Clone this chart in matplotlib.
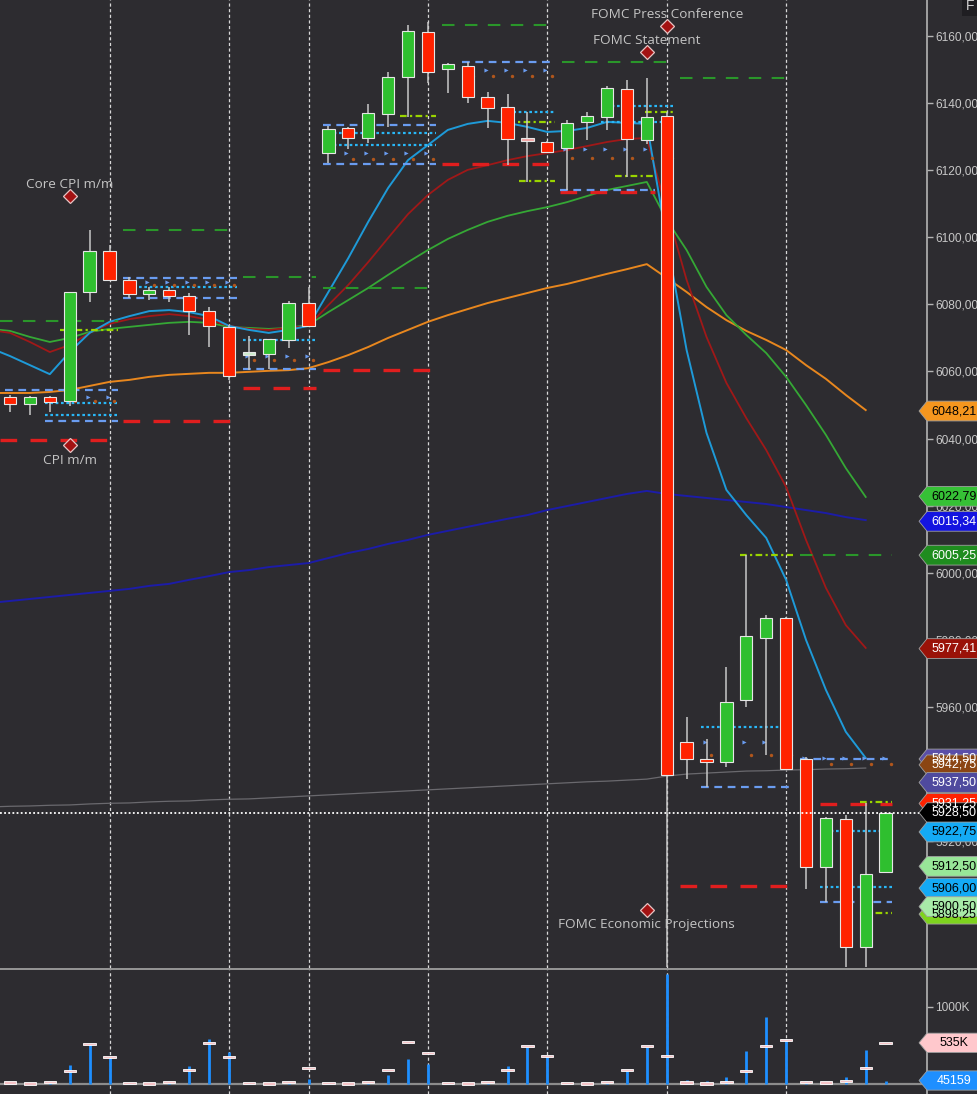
import numpy as np
import matplotlib
matplotlib.use('Agg')
import matplotlib.pyplot as plt
from matplotlib import font_manager
from matplotlib.patches import Polygon

names = {f.name for f in font_manager.fontManager.ttflist}
tagfont = 'Liberation Sans Narrow' if 'Liberation Sans Narrow' in names else 'Liberation Sans'
tagsize = 10.5 if tagfont == 'Liberation Sans Narrow' else 8.6

BG = '#2d2c30'

# ---- candles (price) ----
opens = [6052.4, 6050.3, 6052.4, 6051.2, 6083.7, 6095.9, 6087.3, 6083.1, 6084.3, 6082.5,
         6078.0, 6073.3, 6064.9, 6065.2, 6069.4, 6080.4, 6125.1, 6132.6, 6129.6, 6136.8,
         6147.8, 6161.2, 6150.2, 6151.1, 6141.8, 6138.8, 6129.6, 6128.4, 6126.6, 6134.4,
         6135.9, 6144.2, 6129.0, 6136.2, 5949.6, 5944.5, 5943.6, 5962.1, 5980.6, 5986.5,
         5944.5, 5912.3, 5926.6, 5888.5, 5910.8]
highs = [6053.0, 6052.7, 6052.7, 6083.7, 6102.2, 6097.7, 6088.2, 6085.2, 6085.2, 6083.4,
         6079.2, 6073.9, 6070.6, 6069.7, 6081.0, 6085.2, 6133.2, 6132.9, 6139.7, 6149.3,
         6163.3, 6164.2, 6152.0, 6152.3, 6143.3, 6142.7, 6137.3, 6128.7, 6135.0, 6137.3,
         6145.1, 6146.9, 6147.5, 6137.3, 5957.0, 5950.5, 5971.9, 6005.3, 5987.4, 5986.8,
         5945.1, 5927.2, 5927.8, 5931.4, 5928.7]
lows = [6047.9, 6047.0, 6047.9, 6049.7, 6080.7, 6087.3, 6081.9, 6081.3, 6080.7, 6070.9,
        6067.3, 6057.5, 6060.4, 6060.7, 6067.0, 6073.6, 6122.1, 6126.3, 6128.1, 6132.9,
        6135.9, 6146.0, 6143.0, 6140.0, 6132.6, 6121.5, 6116.5, 6125.1, 6114.1, 6129.0,
        6132.0, 6117.9, 6127.8, 5882.5, 5938.5, 5936.2, 5942.1, 5960.0, 5945.7, 5941.2,
        5905.8, 5901.9, 5882.5, 5882.5, 5910.5]
closes = [6050.3, 6052.4, 6050.9, 6083.7, 6095.9, 6087.3, 6083.1, 6084.3, 6082.5, 6078.0,
          6073.6, 6058.7, 6065.5, 6069.7, 6080.4, 6073.6, 6132.3, 6129.6, 6137.0, 6147.8,
          6161.5, 6149.3, 6151.7, 6141.8, 6138.5, 6129.3, 6128.7, 6125.4, 6134.1, 6136.2,
          6144.5, 6129.3, 6135.9, 5939.7, 5944.5, 5943.6, 5961.5, 5981.2, 5986.5, 5941.5,
          5912.3, 5926.9, 5888.5, 5910.2, 5928.4]
pale_up = [12]
pale_down = [26]

# ---- moving averages (start one bar before the first candle) ----
ma_fast = [6067.0, 6064.6, 6061.9, 6059.2, 6065.8, 6071.5, 6074.8, 6076.5, 6078.0, 6078.3,
           6077.7, 6076.5, 6073.6, 6072.4, 6071.5, 6072.4, 6073.6, 6083.7, 6093.8, 6104.6,
           6114.7, 6123.0, 6127.5, 6132.0, 6133.8, 6134.7, 6134.1, 6132.9, 6131.4, 6131.7,
           6132.6, 6134.4, 6134.1, 6133.8, 6099.2, 6066.4, 6041.7, 6024.7, 6017.2, 6010.4,
           5997.9, 5980.0, 5965.1, 5952.6, 5944.8]
ma_red = [6072.4, 6071.5, 6068.8, 6065.8, 6067.9, 6071.5, 6074.2, 6075.6, 6076.5, 6077.1,
          6076.5, 6075.4, 6073.6, 6072.7, 6072.4, 6073.0, 6073.6, 6079.8, 6085.8, 6092.6,
          6099.8, 6106.9, 6112.6, 6117.1, 6120.1, 6121.5, 6123.0, 6124.2, 6125.1, 6126.0,
          6127.2, 6128.4, 6129.3, 6129.6, 6108.1, 6087.3, 6070.3, 6056.6, 6046.1, 6036.6,
          6025.6, 6009.8, 5995.5, 5984.4, 5977.6]
ma_green = [6072.7, 6072.1, 6070.3, 6068.8, 6070.0, 6071.8, 6072.7, 6073.3, 6073.9, 6074.5,
            6074.8, 6074.5, 6073.3, 6073.0, 6072.7, 6073.0, 6073.9, 6077.7, 6081.3, 6084.9,
            6088.8, 6092.6, 6096.2, 6099.5, 6102.2, 6104.6, 6106.4, 6107.8, 6109.0, 6110.5,
            6112.3, 6114.1, 6115.3, 6116.5, 6105.2, 6096.2, 6085.2, 6076.8, 6070.9, 6065.5,
            6058.4, 6050.0, 6041.1, 6031.2, 6022.6]
ma_orange = [6053.6, 6053.6, 6053.6, 6053.9, 6054.5, 6055.7, 6056.9, 6057.5, 6058.4, 6059.0,
             6059.3, 6059.6, 6059.6, 6059.9, 6060.2, 6060.4, 6061.0, 6062.8, 6064.9, 6067.3,
             6070.0, 6072.4, 6074.8, 6076.8, 6078.6, 6080.4, 6081.9, 6083.4, 6084.9, 6086.1,
             6087.6, 6089.1, 6090.5, 6092.0, 6087.9, 6083.7, 6079.2, 6075.3, 6072.1, 6069.4,
             6066.4, 6061.9, 6057.8, 6053.0, 6048.5]
ma_navy = [5991.0, 5991.6, 5992.2, 5992.8, 5993.4, 5994.0, 5994.6, 5995.2, 5996.1, 5996.7,
           5997.9, 5999.0, 6000.2, 6000.8, 6001.7, 6002.3, 6002.9, 6004.4, 6005.9, 6007.1,
           6008.6, 6009.8, 6011.3, 6012.5, 6013.7, 6014.9, 6016.1, 6017.2, 6018.7, 6019.9,
           6021.1, 6022.3, 6023.5, 6024.4, 6023.5, 6022.9, 6022.3, 6021.7, 6021.1, 6020.5,
           6019.6, 6018.7, 6017.8, 6016.6, 6015.7]
ma_grey = [5930.2, 5930.4, 5930.5, 5930.7, 5930.8, 5931.1, 5931.3, 5931.4, 5931.7, 5931.9,
           5932.0, 5932.3, 5932.5, 5932.6, 5932.9, 5933.2, 5933.5, 5933.8, 5934.1, 5934.4,
           5934.7, 5935.0, 5935.3, 5935.6, 5935.9, 5936.2, 5936.5, 5936.8, 5937.1, 5937.4,
           5937.7, 5937.9, 5938.2, 5938.5, 5939.4, 5940.0, 5940.3, 5940.6, 5940.9, 5941.0,
           5941.2, 5941.3, 5941.5, 5941.6, 5941.8]

# ---- level segments: (first bar, last bar, price) ----
lvl_green = [(-0.5, 5.43, 6075.0), (5.68, 11.41, 6102.2), (11.71, 15.38, 6088.2),
             (15.73, 21.41, 6084.9), (21.71, 27.29, 6163.3), (27.74, 33.32, 6152.2),
             (33.67, 39.35, 6147.5), (39.7, 44.3, 6005.3)]
lvl_red = [(-0.5, 5.43, 6039.6), (5.68, 11.41, 6045.2), (11.71, 15.38, 6055.1),
           (15.73, 21.41, 6060.4), (21.71, 27.29, 6121.8), (27.64, 32.41, 6113.5),
           (33.67, 39.35, 5906.6), (40.7, 44.3, 5931.1)]
lvl_blue = [(-0.25, 5.43, 6054.5), (1.76, 5.43, 6045.2), (5.68, 11.41, 6087.9),
            (5.68, 11.41, 6081.9), (11.71, 15.38, 6060.7), (15.73, 21.41, 6133.5),
            (15.73, 21.41, 6121.8), (22.7, 27.29, 6152.2), (27.64, 32.41, 6114.1),
            (34.7, 39.35, 5936.2), (39.7, 44.3, 5944.5), (40.7, 44.3, 5901.9)]
lvl_cyan = [(1.76, 5.43, 6050.6), (1.76, 5.43, 6047.0), (5.68, 11.41, 6085.2),
            (11.71, 15.38, 6069.4), (15.73, 21.41, 6131.1), (15.73, 21.41, 6127.5),
            (25.0, 27.4, 6137.3), (29.7, 33.4, 6139.1), (29.7, 33.4, 6134.4),
            (34.7, 39.35, 5954.0), (40.7, 44.3, 5923.0), (40.7, 44.3, 5906.4)]
lvl_lime = [(2.5, 5.43, 6072.4), (19.6, 21.4, 6136.2), (25.0, 27.4, 6134.4),
            (25.6, 27.4, 6116.8), (31.9, 33.4, 6137.3), (30.4, 32.4, 6118.3),
            (36.7, 39.35, 6005.3), (42.7, 44.3, 5931.6), (42.7, 44.3, 5898.6)]

# small per-bar markers (triangles and dots)
mark_bars = [3, 4, 5, 6, 7, 8, 9, 10, 11, 12, 13, 14, 15, 17, 18, 19, 20, 21,
             23, 24, 25, 26, 27, 28, 29, 30, 31, 32, 33, 35, 36, 37, 38, 39,
             40, 41, 42, 43, 44]
tri_price = [6052.4, 6052.4, 6052.4, 6086.7, 6086.7, 6086.7, 6086.7, 6086.7, 6086.7,
             6064.6, 6064.6, 6064.6, 6064.6, 6125.1, 6125.1, 6125.1, 6125.1, 6125.1,
             6149.9, 6149.9, 6149.9, 6149.9, 6149.9, 6126.3, 6126.3, 6126.3, 6126.3,
             6126.3, 6126.3, 5949.6, 5949.6, 5949.6, 5949.6, 5949.6, 5944.8, 5944.8,
             5944.8, 5944.8, 5944.8]
dot_price = [6051.2, 6051.2, 6051.2, 6085.8, 6085.8, 6085.8, 6085.8, 6085.8, 6085.8,
             6063.4, 6063.4, 6063.4, 6063.4, 6123.3, 6123.3, 6123.3, 6123.3, 6123.3,
             6148.1, 6148.1, 6148.1, 6148.1, 6148.1, 6123.6, 6123.6, 6123.6, 6123.6,
             6123.6, 6123.6, 5945.7, 5945.7, 5945.7, 5945.7, 5945.7, 5943.0, 5943.0,
             5943.0, 5943.0, 5943.0]

separators = [5, 11, 15, 21, 27, 33, 39]
last_price = 5928.5

# ---- events ----
ev_names = ['Core CPI m/m', 'CPI m/m', 'FOMC Press Conference', 'FOMC Statement',
            'FOMC Economic Projections']
ev_bar = [3, 3, 33, 32, 32]
ev_diamond = [6112.3, 6038.1, 6163.0, 6155.2, 5899.5]
ev_text = [6115.6, 6033.6, 6166.3, 6158.8, 5895.3]

# ---- right-hand price tags ----
tag_price = [6048.21, 6022.79, 6015.34, 6005.25, 5977.41, 5944.50, 5942.75, 5937.50,
             5931.25, 5928.50, 5922.75, 5912.50, 5906.00, 5898.25, 5900.50]
tag_face = ['#f5961e', '#36c136', '#1414e0', '#1f8c1f', '#9a1208', '#5a4ea8', '#8b4513',
            '#4f4a9e', '#ff2200', '#000000', '#14aaf5', '#98e698', '#14aaf5', '#7ed31e',
            '#a8eaa8']
tag_txt = ['black', 'black', 'white', 'white', 'white', 'white', 'white', 'white',
           'white', 'white', 'black', 'black', 'black', 'black', 'black']

# ---- volume (thousands) ----
volume = [10, 5, 12, 251, 515, 340, 8, 6, 10, 238, 590, 418, 8, 5, 10, 62, 8, 5, 10, 119,
          330, 264, 8, 5, 10, 229, 485, 370, 8, 5, 10, 163, 485, 1432, 53, 44, 97, 427,
          868, 581, 44, 15, 97, 440, 45.159]
vol_avg = [18, 5, 22, 172, 515, 352, 13, 5, 22, 185, 529, 352, 13, 5, 22, 211, 13, 5, 26,
           185, 542, 405, 13, 5, 22, 181, 489, 366, 13, 5, 22, 185, 489, 366, 18, 5, 22,
           172, 489, 568, 22, 18, 40, 211, 535]

W, H = 978, 1094
fig = plt.figure(figsize=(W / 100, H / 100), dpi=100, facecolor=BG)
ax = fig.add_axes([0, (H - 968) / H, 927 / W, 968 / H], facecolor=BG)
axv = fig.add_axes([0, 0, 927 / W, 124 / H], facecolor=BG)

XL = (-0.5025, 46.08)
ax.set_xlim(*XL)
ax.set_ylim(5882.2, 6170.73)
axv.set_xlim(*XL)
axv.set_ylim(-130, 1480.5)

x = np.arange(len(opens))
xm = np.arange(-1, len(opens) - 1)

# moving averages
ax.plot(xm, ma_grey, color='#6a696e', lw=0.9, zorder=2)
ax.plot(xm, ma_navy, color='#1c1ca8', lw=1.4, zorder=2)
ax.plot(xm, ma_orange, color='#e8871e', lw=1.4, zorder=2)
ax.plot(xm, ma_green, color='#35a835', lw=1.3, zorder=2)
ax.plot(xm, ma_red, color='#a01818', lw=1.3, zorder=2)
ax.plot(xm, ma_fast, color='#1e9ad8', lw=1.4, zorder=2)


# level segments
def segs(lst, **kw):
    for a, b, p in lst:
        ax.plot([a, b], [p, p], solid_capstyle='butt', zorder=3, **kw)


segs(lvl_green, color='#2a962a', lw=1.5, dashes=(6, 5))
segs(lvl_red, color='#e01e1e', lw=2.4, dashes=(5, 4))
segs(lvl_blue, color='#6a9cf0', lw=1.6, dashes=(3.5, 2.5))
segs(lvl_cyan, color='#29b6f6', lw=1.6, dashes=(1.2, 1.2))
segs(lvl_lime, color='#9ad400', lw=1.6, dashes=(3, 1.5, 1, 1.5))

mb = np.array(mark_bars)
ax.scatter(mb - 0.1, tri_price, marker='>', s=9, color='#6a9cf0', lw=0, zorder=3)
ax.scatter(mb + 0.25, dot_price, marker='o', s=6, color='#b0561c', lw=0, zorder=3)

# separators
for s in separators:
    for a in (ax, axv):
        a.axvline(s, color='#d8d8d8', lw=0.9, dashes=(2.5, 2), zorder=1.5)

# candles
op = np.array(opens)
cl = np.array(closes)
for i in range(len(opens)):
    up = cl[i] >= op[i]
    col = '#2fbf2f' if up else '#ff2200'
    if i in pale_up:
        col = '#cdeccd'
    if i in pale_down:
        col = '#f2a4a4'
    ax.vlines(i, lows[i], highs[i], color='#c8c8c8', lw=1.1, zorder=4)
    lo = min(op[i], cl[i])
    hgt = max(abs(cl[i] - op[i]), 0.9)
    ax.bar(i, hgt, bottom=lo, width=0.62, color=col, edgecolor='#e6e6e6', lw=0.8, zorder=5)

# last price line
ax.axhline(last_price, color='white', lw=1.3, dashes=(1, 1.3), zorder=6)

# events
for n, b, d, t in zip(ev_names, ev_bar, ev_diamond, ev_text):
    ax.plot(b, d, marker='D', ms=7, color='#a31212', mec='#e8c4c4', mew=0.9, zorder=7)
    ax.text(b, t, n, ha='center', va='center', fontsize=9.7, family='Open Sans',
            color='#c4c4c4', zorder=7)

# axes styling
for a in (ax, axv):
    for sp in ('top', 'left', 'bottom'):
        a.spines[sp].set_visible(False)
    a.spines['right'].set_color('#b4b4b4')
    a.spines['right'].set_linewidth(1.2)
    a.set_xticks([])
    a.yaxis.tick_right()
    a.tick_params(axis='y', direction='out', length=4, width=1, colors='#b4b4b4',
                  labelcolor='#c8c8c8', pad=2)

ticks = np.arange(5900, 6161, 20)
ax.set_yticks(ticks)
ax.set_yticklabels([f'{t:.2f}'.replace('.', ',') for t in ticks], fontsize=tagsize,
                   family=tagfont)

axv.set_yticks([1000])
axv.set_yticklabels(['1000K'], fontsize=tagsize, family=tagfont)


def tag(a, y, txt, face, tc, half):
    tr = a.get_yaxis_transform()
    pts = [(0.9914, y), (1.0, y + half), (1.055, y + half), (1.055, y - half),
           (1.0, y - half)]
    a.add_patch(Polygon(pts, closed=True, transform=tr, clip_on=False, facecolor=face,
                        edgecolor='#a0a0a0', lw=0.6, zorder=10))
    a.text(1.0295, y, txt, transform=tr, ha='center', va='center', color=tc,
           fontsize=tagsize + 0.4, family=tagfont, clip_on=False, zorder=11)


for p, f, c in zip(tag_price, tag_face, tag_txt):
    tag(ax, p, f'{p:.2f}'.replace('.', ','), f, c, 2.95)

# volume
axv.axhline(0, color='#8c8c8c', lw=1.6, zorder=2)
axv.vlines(x, 0, volume, color='#1e8fff', lw=2, zorder=3)
va = np.array(vol_avg)
axv.bar(x, 30, bottom=va - 15, width=0.62, color='#f6c4c8', edgecolor='#ffffff',
        lw=0.6, zorder=4)
tag(axv, 535, '535K', '#ffc8cc', 'black', 125)
tag(axv, 45.159, '45159', '#1e8fff', 'white', 125)

# panel separator and corner box
fig.add_artist(plt.Line2D([0, 1], [(H - 968.5) / H] * 2, color='#a8a8a8', lw=1.2))
fig.text(970 / W, 1 - 6 / H, 'F', ha='center', va='center', fontsize=10,
         color='#d0d0d0', family='Liberation Sans',
         bbox=dict(boxstyle='square,pad=0.25', fc='#1f1e22', ec='none'))

fig.savefig('out.png', dpi=100, facecolor=BG)
